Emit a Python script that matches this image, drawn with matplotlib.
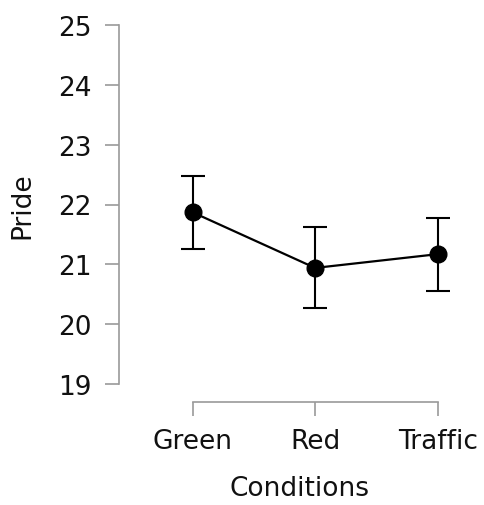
import matplotlib
matplotlib.use("Agg")
import matplotlib.pyplot as plt

conditions = ["Green", "Red", "Traffic"]
means = [21.87, 20.94, 21.17]
ci_lower = [21.26, 20.27, 20.56]
ci_upper = [22.47, 21.62, 21.78]
y_ticks = [19, 20, 21, 22, 23, 24, 25]

plt.rcParams["font.family"] = ["DejaVu Sans"]

W, H = 485, 506
fig = plt.figure(figsize=(W / 100, H / 100), dpi=100)
ax = fig.add_axes([119 / W, 121 / H, (480.6 - 119) / W, (480 - 121) / H])

x = list(range(len(conditions)))
yerr = [[m - lo for m, lo in zip(means, ci_lower)],
        [hi - m for m, hi in zip(means, ci_upper)]]
ax.errorbar(x, means, yerr=yerr, fmt="none", ecolor="black",
            elinewidth=1.5, capsize=8.6, capthick=1.5, zorder=2)
ax.plot(x, means, color="black", lw=1.6, marker="o", markersize=12,
        zorder=3, clip_on=False)

ax.set_xlim(-0.6, 2.35)
ax.set_ylim(19, 25)
ax.set_yticks(y_ticks)
ax.set_xticks(x)
ax.set_xticklabels(conditions)

for s in ["top", "right"]:
    ax.spines[s].set_visible(False)
gray = "#9a9a9a"
ax.spines["left"].set_color(gray)
ax.spines["bottom"].set_color(gray)
ax.spines["left"].set_linewidth(1.2)
ax.spines["bottom"].set_linewidth(1.2)
ax.spines["left"].set_bounds(19, 25)
ax.spines["bottom"].set_bounds(0, 2)
ax.spines["bottom"].set_position(("outward", 13))

ax.tick_params(axis="y", length=10, width=1.2, color=gray, pad=10,
               labelsize=19, labelcolor="#111111")
ax.tick_params(axis="x", length=10, width=1.2, color=gray, pad=9,
               labelsize=19, labelcolor="#111111")

ax.set_ylabel("Pride", fontsize=19, color="#111111", labelpad=16)
ax.set_xlabel("Conditions", fontsize=19, color="#111111", labelpad=15)

fig.savefig("out.png", dpi=100)
